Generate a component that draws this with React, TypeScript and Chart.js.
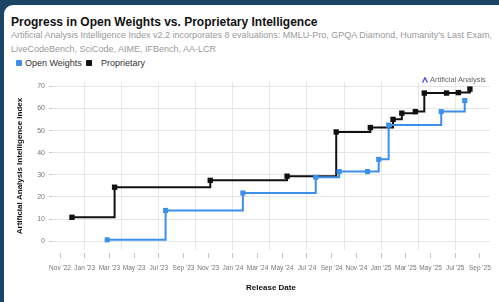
import React, { useEffect, useRef } from "react";
import { Chart, registerables } from "chart.js";

Chart.register(...registerables);

// ---- data ----
const openDates = ["2023-02-24", "2023-07-18", "2024-01-26", "2024-07-23", "2024-09-19", "2024-11-28", "2024-12-26", "2025-01-20", "2025-05-28", "2025-07-25"];
const openScores = [0.6, 13.9, 21.8, 28.9, 31.5, 31.5, 37.0, 52.5, 58.6, 63.6];

const propDates = ["2022-11-30", "2023-03-14", "2023-11-06", "2024-05-13", "2024-09-12", "2024-12-05", "2025-01-31", "2025-02-20", "2025-03-25", "2025-04-16", "2025-06-10", "2025-07-09", "2025-08-07"];
const propScores = [10.8, 24.4, 27.5, 29.4, 49.4, 51.4, 55.1, 57.9, 58.6, 67.0, 67.0, 67.2, 68.8];

// months counted from Jan 2022 (0)
const xTickMonths = [10, 12, 14, 16, 18, 20, 22, 24, 26, 28, 30, 32, 34, 36, 38, 40, 42, 44];
const xGridMonths = [12, 15, 18, 21, 24, 27, 30, 33, 36, 39, 42];
const yTicks = [0, 10, 20, 30, 40, 50, 60, 70];
const MONTHS = ["Jan", "Feb", "Mar", "Apr", "May", "Jun", "Jul", "Aug", "Sep", "Oct", "Nov", "Dec"];

const X_MIN = 9.35;
const X_MAX = 44.82;

const BLUE = "#3c90e8";
const BLACK = "#111111";
const FONT = "'Liberation Sans', Arial, Helvetica, sans-serif";

function toMonth(d: string): number {
  const [y, m, day] = d.split("-").map(Number);
  const dim = new Date(y, m, 0).getDate();
  return (y - 2022) * 12 + (m - 1) + (day - 1) / dim;
}

function monthLabel(v: number): string {
  const m = ((v % 12) + 12) % 12;
  const yy = 22 + Math.floor(v / 12);
  return `${MONTHS[m]} '${yy}`;
}

export default function App() {
  const ref = useRef<HTMLCanvasElement | null>(null);

  useEffect(() => {
    if (!ref.current) return;
    const chart = new Chart(ref.current, {
      type: "line",
      data: {
        datasets: [
          {
            label: "Open Weights",
            data: openDates.map((d, i) => ({ x: toMonth(d), y: openScores[i] })),
            borderColor: BLUE,
            backgroundColor: BLUE,
            borderWidth: 2,
            stepped: true,
            pointStyle: "rect",
            pointRadius: 3.6,
            pointBorderWidth: 0,
            xAxisID: "x",
            yAxisID: "y",
          },
          {
            label: "Proprietary",
            data: propDates.map((d, i) => ({ x: toMonth(d), y: propScores[i] })),
            borderColor: BLACK,
            backgroundColor: BLACK,
            borderWidth: 2,
            stepped: true,
            pointStyle: "rect",
            pointRadius: 3.8,
            pointBorderWidth: 0,
            xAxisID: "x",
            yAxisID: "y",
          },
        ],
      },
      options: {
        responsive: false,
        animation: false,
        layout: { padding: { left: 4, right: 9, top: 14, bottom: 0 } },
        plugins: { legend: { display: false }, tooltip: { enabled: false } },
        scales: {
          x: {
            type: "linear",
            position: "bottom",
            weight: 1,
            min: X_MIN,
            max: X_MAX,
            afterBuildTicks: (s: any) => {
              s.ticks = xTickMonths.map((v) => ({ value: v }));
            },
            afterFit: (s: any) => {
              s.height = 45;
            },
            ticks: {
              callback: (v: any) => monthLabel(Number(v)),
              color: "#777",
              font: { size: 6.5, family: FONT },
              maxRotation: 0,
              autoSkip: false,
              padding: 6,
            },
            grid: { drawOnChartArea: false, drawTicks: true, tickLength: 5, tickColor: "#c4c4c4", lineWidth: 1 },
            border: { display: false },
            title: {
              display: true,
              text: "Release Date",
              color: "#111",
              font: { size: 8, weight: "bold", family: FONT },
              padding: { top: 4, bottom: 5 },
            },
          },
          xGrid: {
            type: "linear",
            axis: "x",
            position: "bottom",
            weight: 0,
            min: X_MIN,
            max: X_MAX,
            afterBuildTicks: (s: any) => {
              s.ticks = xGridMonths.map((v) => ({ value: v }));
            },
            ticks: { display: false },
            grid: { color: "#e6e6e6", drawTicks: true, tickLength: 3, tickColor: "rgba(0,0,0,0)" },
            border: { display: false },
          },
          y: {
            type: "linear",
            min: -4,
            max: 72,
            afterBuildTicks: (s: any) => {
              s.ticks = yTicks.map((v) => ({ value: v }));
            },
            afterFit: (s: any) => {
              s.width = 44;
            },
            ticks: { color: "#777", font: { size: 7, family: FONT }, padding: 4 },
            grid: { color: "#e6e6e6", drawTicks: true, tickLength: 3, tickColor: "#c4c4c4" },
            border: { display: false },
            title: {
              display: true,
              text: "Artificial Analysis Intelligence Index",
              color: "#111",
              font: { size: 8, weight: "bold", family: FONT },
              padding: { top: 6.7, bottom: 2 },
            },
          },
        },
      },
    } as any);
    return () => chart.destroy();
  }, []);

  return (
    <div style={{ position: "fixed", inset: 0, background: "#1a4567", overflow: "hidden", fontFamily: FONT }}>
      <div style={{ position: "absolute", left: 4, top: 5, right: -12, bottom: -12, background: "#fff", borderRadius: 9 }} />
      <div style={{ position: "absolute", left: 11, top: 15, fontSize: 12, lineHeight: "14px", fontWeight: "bold", color: "#111", whiteSpace: "nowrap" }}>
        Progress in Open Weights vs. Proprietary Intelligence
      </div>
      <div style={{ position: "absolute", left: 11, top: 27.6, fontSize: 9, lineHeight: "14px", color: "#9a9a9a", whiteSpace: "nowrap" }}>
        <div>Artificial Analysis Intelligence Index v2.2 incorporates 8 evaluations: MMLU-Pro, GPQA Diamond, Humanity's Last Exam,</div>
        <div>LiveCodeBench, SciCode, AIME, IFBench, AA-LCR</div>
      </div>
      <div style={{ position: "absolute", left: 16, top: 60, width: 6, height: 6, background: BLUE, borderRadius: 1 }} />
      <div style={{ position: "absolute", left: 25, top: 55.7, fontSize: 9, lineHeight: "14px", color: "#333", whiteSpace: "nowrap" }}>Open Weights</div>
      <div style={{ position: "absolute", left: 86, top: 60, width: 6, height: 6, background: BLACK, borderRadius: 1 }} />
      <div style={{ position: "absolute", left: 101, top: 55.7, fontSize: 9, lineHeight: "14px", color: "#333", whiteSpace: "nowrap" }}>Proprietary</div>
      <div style={{ position: "absolute", left: 4, top: 68, width: 495, height: 230 }}>
        <canvas ref={ref} width={495} height={230} style={{ display: "block", width: 495, height: 230 }} />
      </div>
      <div style={{ position: "absolute", left: 422, top: 75, display: "flex", alignItems: "center", whiteSpace: "nowrap" }}>
        <svg width="6" height="6" viewBox="0 0 6 6" style={{ marginRight: 2 }}>
          <path d="M0.5 5.6 L3 0.6 L5.5 5.6" fill="none" stroke="#4b4fd1" strokeWidth="1.3" />
        </svg>
        <span style={{ fontSize: 7.5, lineHeight: "10px", color: "#666" }}>Artificial Analysis</span>
      </div>
    </div>
  );
}
